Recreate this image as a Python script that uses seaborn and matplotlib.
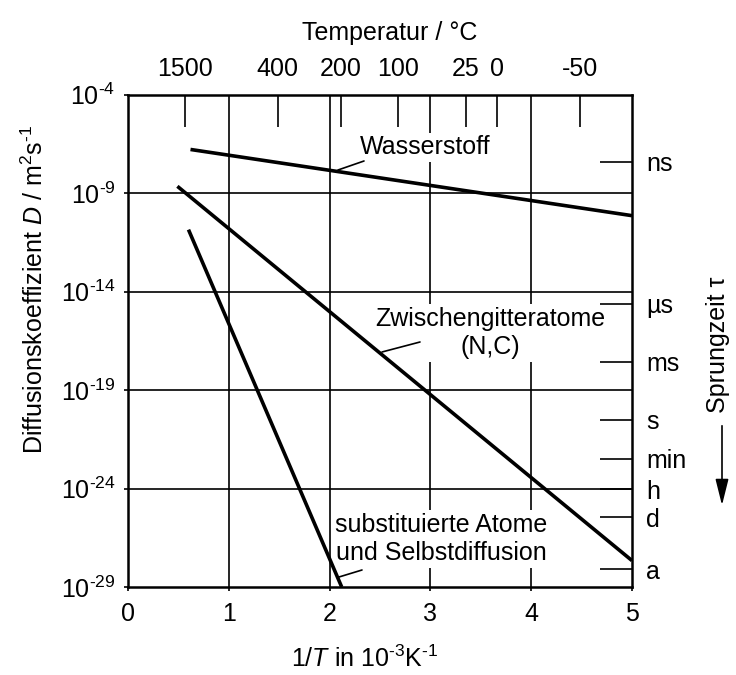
import numpy as np
import pandas as pd
import matplotlib
matplotlib.use("Agg")
import matplotlib.pyplot as plt
from matplotlib import font_manager
import seaborn as sns

# Diffusion lines: endpoints in (1/T [10^-3 K^-1], log10 D [m^2/s])
h_x = [0.62, 5.0]
h_logd = [-6.79, -10.15]
interstitial_x = [0.49, 5.0]
interstitial_logd = [-8.66, -27.66]
subst_x = [0.60, 2.12]
subst_logd = [-10.86, -29.0]

# Temperature scale on top (degrees Celsius)
temps_c = [1500, 400, 200, 100, 25, 0, -50]

# Jump time scale on the right (position as log10 D)
tau_labels = ["ns", "µs", "ms", "s", "min", "h", "d", "a"]
tau_logd = [-7.41, -14.61, -17.56, -20.52, -22.50, -24.05, -25.45, -28.09]

y_ticks_exp = [-4, -9, -14, -19, -24, -29]
x_ticks = [0, 1, 2, 3, 4, 5]

sns.set_theme(style="white")

family = "Liberation Sans"
try:
    font_manager.findfont("Liberation Sans Narrow", fallback_to_default=False)
    family = "Liberation Sans Narrow"
except Exception:
    pass
plt.rcParams["font.family"] = [family, "DejaVu Sans"]
plt.rcParams["mathtext.fontset"] = "custom"
plt.rcParams["mathtext.rm"] = family
plt.rcParams["mathtext.it"] = family + ":italic"
plt.rcParams["mathtext.default"] = "regular"
for key in ["text.color", "axes.labelcolor", "xtick.color", "ytick.color"]:
    plt.rcParams[key] = "black"

FS = 18
W, H = 736, 675
fig = plt.figure(figsize=(W / 100, H / 100), dpi=100)
ax = fig.add_axes([128 / W, 1 - 587 / H, (632 - 128) / W, (587 - 94.5) / H])

df = pd.concat([
    pd.DataFrame({"x": h_x, "D": 10.0 ** np.array(h_logd), "s": "H"}),
    pd.DataFrame({"x": interstitial_x, "D": 10.0 ** np.array(interstitial_logd), "s": "I"}),
    pd.DataFrame({"x": subst_x, "D": 10.0 ** np.array(subst_logd), "s": "S"}),
])
ax.set_yscale("log")
sns.lineplot(data=df, x="x", y="D", units="s", estimator=None, color="black",
             lw=2.6, ax=ax, legend=False, zorder=4, solid_capstyle="butt")

ax.set_xlim(0, 5)
ax.set_ylim(1e-29, 1e-4)
ax.set_xticks(x_ticks)
ax.set_xticklabels([str(v) for v in x_ticks], fontsize=FS)
ax.set_yticks([10.0 ** e for e in y_ticks_exp])
ax.set_yticklabels([f"$10^{{\u2010{-e}}}$" for e in y_ticks_exp], fontsize=FS)
ax.minorticks_off()
ax.tick_params(axis="both", length=3, width=1.2, color="black", pad=6, direction="out")
ax.tick_params(axis="x", pad=8, bottom=False)

for v in [1, 2, 3, 4]:
    ax.axvline(v, color="black", lw=1.2, zorder=1)
for e in [-9, -14, -19, -24]:
    ax.axhline(10.0 ** e, color="black", lw=1.2, zorder=1)
for sp in ax.spines.values():
    sp.set_color("black")
    sp.set_linewidth(1.8)

ax.set_xlabel("1/$\\mathit{T}$ in $10^{\u20103}$K$^{\u20101}$", fontsize=FS, labelpad=14)
ax.xaxis.label.set_x(0.47)
ax.set_ylabel("Diffusionskoeffizient $\\mathit{D}$ / m$^{2}$s$^{\u20101}$", fontsize=FS)
ax.yaxis.set_label_coords(-0.158, 0.605)

# Temperature axis on top
top = ax.twiny()
top.set_xlim(ax.get_xlim())
top.set_xticks([1000.0 / (t + 273.15) for t in temps_c])
top.set_xticklabels([str(t) for t in temps_c], fontsize=FS)
top.tick_params(axis="x", direction="in", length=23, width=1.2, color="black", pad=10)
top.set_xlabel("Temperatur / °C", fontsize=FS, labelpad=12)
top.xaxis.label.set_x(0.52)
for sp in top.spines.values():
    sp.set_visible(False)

# Jump time axis on the right
right = ax.twinx()
right.set_yscale("log")
right.set_ylim(ax.get_ylim())
right.set_yticks([10.0 ** v for v in tau_logd])
right.set_yticklabels(tau_labels, fontsize=FS)
right.minorticks_off()
right.tick_params(axis="y", direction="in", length=23, width=1.2, color="black", pad=10)
for sp in right.spines.values():
    sp.set_visible(False)


def px(x, y):
    return fig.transFigure.inverted().transform((x, H - y))


# Curve labels sit on white boxes above the grid but below the curves
box = dict(boxstyle="square,pad=0.1", fc="white", ec="none")
for (x, y), label in [((425, 147), "Wasserstoff"),
                      ((490, 333), "Zwischengitteratome\n(N,C)"),
                      ((441, 539), "substituierte Atome\nund Selbstdiffusion")]:
    fx, fy = px(x, y)
    ax.text(fx, fy, label, transform=fig.transFigure, fontsize=FS, ha="center",
            va="center", bbox=box, zorder=3, linespacing=1.25)


def leader(p0, p1):
    a, b = px(*p0), px(*p1)
    fig.add_artist(plt.Line2D([a[0], b[0]], [a[1], b[1]], color="black", lw=1.2, zorder=6))


leader((338, 170), (364, 161))
leader((382, 352), (420, 342))
leader((339, 577), (362, 570))

# Right-hand axis title with downward arrow
tx, ty = px(718, 345)
fig.text(tx, ty, "Sprungzeit τ", rotation=90, fontsize=FS, ha="center", va="center")
a0, a1 = px(722, 423), px(722, 508)
fig.add_artist(matplotlib.patches.FancyArrowPatch(
    a0, a1, transform=fig.transFigure, arrowstyle="-|>,head_length=0.8,head_width=0.2",
    color="black", lw=1.2, mutation_scale=20))

fig.savefig("out.png", dpi=100)
